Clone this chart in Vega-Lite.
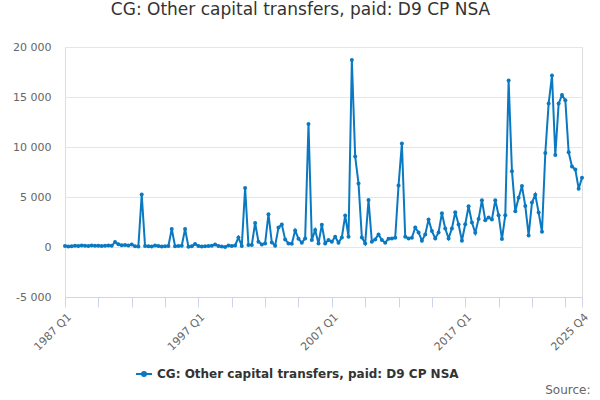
{
"$schema": "https://vega.github.io/schema/vega-lite/v6.json",
"width": 517, "height": 250,
"autosize": {"type": "none"},
"padding": {"left": 65, "top": 47, "right": 18, "bottom": 103},
"background": "white",
"title": {"text": "CG: Other capital transfers, paid: D9 CP NSA", "fontSize": 17, "font": "DejaVu Sans", "fontWeight": "normal", "color": "#333333", "anchor": "middle", "dx": -23, "offset": 22},
"data": {"values": [
{"quarter":"1987 Q1","value":100},{"quarter":"1987 Q2","value":50},{"quarter":"1987 Q3","value":80},{"quarter":"1987 Q4","value":120},
{"quarter":"1988 Q1","value":100},{"quarter":"1988 Q2","value":150},{"quarter":"1988 Q3","value":120},{"quarter":"1988 Q4","value":100},
{"quarter":"1989 Q1","value":150},{"quarter":"1989 Q2","value":120},{"quarter":"1989 Q3","value":130},{"quarter":"1989 Q4","value":100},
{"quarter":"1990 Q1","value":120},{"quarter":"1990 Q2","value":150},{"quarter":"1990 Q3","value":120},{"quarter":"1990 Q4","value":500},
{"quarter":"1991 Q1","value":280},{"quarter":"1991 Q2","value":180},{"quarter":"1991 Q3","value":200},{"quarter":"1991 Q4","value":150},
{"quarter":"1992 Q1","value":250},{"quarter":"1992 Q2","value":80},{"quarter":"1992 Q3","value":60},{"quarter":"1992 Q4","value":5250},
{"quarter":"1993 Q1","value":100},{"quarter":"1993 Q2","value":80},{"quarter":"1993 Q3","value":50},{"quarter":"1993 Q4","value":150},
{"quarter":"1994 Q1","value":100},{"quarter":"1994 Q2","value":50},{"quarter":"1994 Q3","value":80},{"quarter":"1994 Q4","value":100},
{"quarter":"1995 Q1","value":1800},{"quarter":"1995 Q2","value":80},{"quarter":"1995 Q3","value":100},{"quarter":"1995 Q4","value":120},
{"quarter":"1996 Q1","value":1800},{"quarter":"1996 Q2","value":30},{"quarter":"1996 Q3","value":80},{"quarter":"1996 Q4","value":300},
{"quarter":"1997 Q1","value":100},{"quarter":"1997 Q2","value":50},{"quarter":"1997 Q3","value":80},{"quarter":"1997 Q4","value":100},
{"quarter":"1998 Q1","value":120},{"quarter":"1998 Q2","value":250},{"quarter":"1998 Q3","value":100},{"quarter":"1998 Q4","value":50},
{"quarter":"1999 Q1","value":0},{"quarter":"1999 Q2","value":150},{"quarter":"1999 Q3","value":100},{"quarter":"1999 Q4","value":150},
{"quarter":"2000 Q1","value":950},{"quarter":"2000 Q2","value":100},{"quarter":"2000 Q3","value":5900},{"quarter":"2000 Q4","value":200},
{"quarter":"2001 Q1","value":200},{"quarter":"2001 Q2","value":2400},{"quarter":"2001 Q3","value":530},{"quarter":"2001 Q4","value":260},
{"quarter":"2002 Q1","value":360},{"quarter":"2002 Q2","value":3280},{"quarter":"2002 Q3","value":460},{"quarter":"2002 Q4","value":130},
{"quarter":"2003 Q1","value":1950},{"quarter":"2003 Q2","value":2250},{"quarter":"2003 Q3","value":760},{"quarter":"2003 Q4","value":360},
{"quarter":"2004 Q1","value":330},{"quarter":"2004 Q2","value":1660},{"quarter":"2004 Q3","value":830},{"quarter":"2004 Q4","value":430},
{"quarter":"2005 Q1","value":860},{"quarter":"2005 Q2","value":12300},{"quarter":"2005 Q3","value":700},{"quarter":"2005 Q4","value":1690},
{"quarter":"2006 Q1","value":360},{"quarter":"2006 Q2","value":2220},{"quarter":"2006 Q3","value":360},{"quarter":"2006 Q4","value":700},
{"quarter":"2007 Q1","value":530},{"quarter":"2007 Q2","value":1030},{"quarter":"2007 Q3","value":430},{"quarter":"2007 Q4","value":960},
{"quarter":"2008 Q1","value":3150},{"quarter":"2008 Q2","value":1030},{"quarter":"2008 Q3","value":18700},{"quarter":"2008 Q4","value":9040},
{"quarter":"2009 Q1","value":6360},{"quarter":"2009 Q2","value":960},{"quarter":"2009 Q3","value":360},{"quarter":"2009 Q4","value":4700},
{"quarter":"2010 Q1","value":530},{"quarter":"2010 Q2","value":760},{"quarter":"2010 Q3","value":1260},{"quarter":"2010 Q4","value":700},
{"quarter":"2011 Q1","value":430},{"quarter":"2011 Q2","value":830},{"quarter":"2011 Q3","value":860},{"quarter":"2011 Q4","value":930},
{"quarter":"2012 Q1","value":6160},{"quarter":"2012 Q2","value":10360},{"quarter":"2012 Q3","value":1030},{"quarter":"2012 Q4","value":860},
{"quarter":"2013 Q1","value":930},{"quarter":"2013 Q2","value":1950},{"quarter":"2013 Q3","value":1460},{"quarter":"2013 Q4","value":630},
{"quarter":"2014 Q1","value":1260},{"quarter":"2014 Q2","value":2750},{"quarter":"2014 Q3","value":1590},{"quarter":"2014 Q4","value":860},
{"quarter":"2015 Q1","value":1460},{"quarter":"2015 Q2","value":3380},{"quarter":"2015 Q3","value":1850},{"quarter":"2015 Q4","value":860},
{"quarter":"2016 Q1","value":1850},{"quarter":"2016 Q2","value":3480},{"quarter":"2016 Q3","value":2250},{"quarter":"2016 Q4","value":630},
{"quarter":"2017 Q1","value":2280},{"quarter":"2017 Q2","value":4070},{"quarter":"2017 Q3","value":2450},{"quarter":"2017 Q4","value":1420},
{"quarter":"2018 Q1","value":2810},{"quarter":"2018 Q2","value":4670},{"quarter":"2018 Q3","value":2680},{"quarter":"2018 Q4","value":2950},
{"quarter":"2019 Q1","value":2750},{"quarter":"2019 Q2","value":4670},{"quarter":"2019 Q3","value":3180},{"quarter":"2019 Q4","value":790},
{"quarter":"2020 Q1","value":3180},{"quarter":"2020 Q2","value":16650},{"quarter":"2020 Q3","value":7580},{"quarter":"2020 Q4","value":3580},
{"quarter":"2021 Q1","value":4930},{"quarter":"2021 Q2","value":6090},{"quarter":"2021 Q3","value":4100},{"quarter":"2021 Q4","value":1160},
{"quarter":"2022 Q1","value":4440},{"quarter":"2022 Q2","value":5230},{"quarter":"2022 Q3","value":3440},{"quarter":"2022 Q4","value":1520},
{"quarter":"2023 Q1","value":9400},{"quarter":"2023 Q2","value":14340},{"quarter":"2023 Q3","value":17150},{"quarter":"2023 Q4","value":9200},
{"quarter":"2024 Q1","value":14340},{"quarter":"2024 Q2","value":15200},{"quarter":"2024 Q3","value":14670},{"quarter":"2024 Q4","value":9470},
{"quarter":"2025 Q1","value":8050},{"quarter":"2025 Q2","value":7750},{"quarter":"2025 Q3","value":5830},{"quarter":"2025 Q4","value":6920}
]},
"mark": {"type": "line", "strokeWidth": 2, "point": {"filled": true, "size": 16}},
"encoding": {
  "x": {"field": "quarter", "type": "ordinal", "sort": null, "scale": {"type": "point", "padding": 0},
    "axis": {"values": ["1987 Q1","1989 Q3","1992 Q1","1994 Q3","1997 Q1","1999 Q3","2002 Q1","2004 Q3","2007 Q1","2009 Q3","2012 Q1","2014 Q3","2017 Q1","2019 Q3","2022 Q1","2024 Q3","2025 Q4"],
      "labelExpr": "indexof(['1987 Q1','1997 Q1','2007 Q1','2017 Q1','2025 Q4'], datum.value) >= 0 ? datum.value : ''",
      "labelAngle": -45, "labelAlign": "right", "labelBaseline": "top", "labelOverlap": false, "labelFont": "DejaVu Sans", "labelFontSize": 11, "labelColor": "#666666", "labelPadding": 4,
      "domainColor": "#ccd6eb", "tickColor": "#ccd6eb", "tickSize": 10, "grid": false,
      "title": "Source:", "titleFont": "DejaVu Sans", "titleFontSize": 12, "titleFontWeight": "normal", "titleColor": "#666666", "titleAnchor": "end", "titleAlign": "right", "titleBaseline": "middle", "titleX": 525, "titleY": 92}},
  "y": {"field": "value", "type": "quantitative", "scale": {"domain": [-5000, 20000]},
    "axis": {"values": [-5000, 0, 5000, 10000, 15000, 20000], "labelExpr": "replace(replace(format(datum.value, ','), ',', ' '), '−', '-')",
      "domain": false, "ticks": false, "gridColor": "#e6e6e6", "labelColor": "#666666", "labelFont": "DejaVu Sans", "labelFontSize": 11, "labelPadding": 14, "title": null}},
  "color": {"datum": "CG: Other capital transfers, paid: D9 CP NSA", "scale": {"range": ["#0b79c1"]},
    "legend": {"orient": "none", "legendX": 70, "legendY": 318, "direction": "horizontal", "title": null, "labelFont": "DejaVu Sans", "labelFontSize": 12, "labelFontWeight": "bold", "labelColor": "#333333", "labelLimit": 0,
      "symbolType": "M-1,0L1,0M-0.25,0a0.25,0.25 0 1,0 0.5,0a0.25,0.25 0 1,0 -0.5,0", "symbolSize": 256, "symbolStrokeWidth": 2}}
}
}
